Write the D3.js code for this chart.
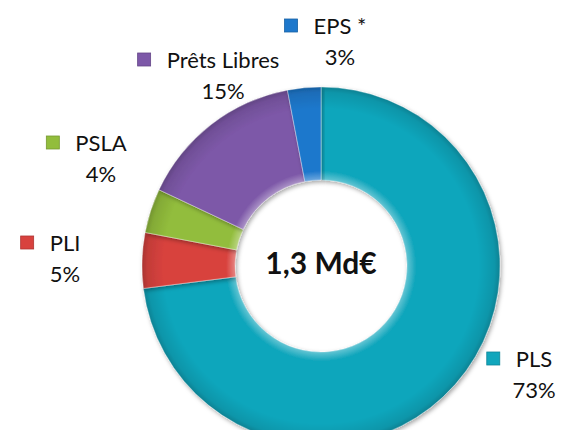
<!DOCTYPE html>
<html>
<head>
<meta charset="utf-8">
<script src="https://cdn.jsdelivr.net/npm/d3@7"></script>
<style>
  body { margin: 0; background: #fff; }
  svg { display: block; }
  text { font-family: Lato, "Open Sans", sans-serif; fill: #111; }
</style>
</head>
<body>
<svg id="chart" width="561" height="430"></svg>
<script>
// data, clockwise from 12 o'clock
const categories = ["PLS", "PLI", "PSLA", "Prêts Libres", "EPS *"];
const shares = [73, 5, 4, 15, 3];
const colors = ["#11A6BC", "#D8423E", "#92BD3C", "#7D58A8", "#1E78CC"];
const totalLabel = "1,3 Md€";

// label layout (name centre x, name baseline y)
const labelAt = {
    "PLS": [534, 367],
    "PLI": [65, 251],
    "PSLA": [101, 151],
    "Prêts Libres": [223, 68],
    "EPS *": [340, 34]
};

const cx = 321, cy = 266, outerR = 179, innerR = 86;

const svg = d3.select("#chart");
const defs = svg.append("defs");

// soft shadow under the ring
const shadow = defs.append("filter").attr("id", "shadow")
    .attr("x", "-10%").attr("y", "-10%").attr("width", "120%").attr("height", "120%");
shadow.append("feDropShadow")
    .attr("dx", 1.5).attr("dy", 2).attr("stdDeviation", 2)
    .attr("flood-color", "#000").attr("flood-opacity", 0.35);

// bevel-ish shading across the ring
const shade = defs.append("radialGradient").attr("id", "shade")
    .attr("gradientUnits", "userSpaceOnUse")
    .attr("cx", 0).attr("cy", 0).attr("r", outerR);
[[innerR / outerR, "#fff", 0.35], [innerR / outerR + 0.05, "#fff", 0.0],
 [0.88, "#000", 0.0], [0.97, "#000", 0.1], [1, "#000", 0.22]]
    .forEach(s => shade.append("stop")
        .attr("offset", s[0]).attr("stop-color", s[1]).attr("stop-opacity", s[2]));

const data = categories.map((c, i) => ({ name: c, value: shares[i], color: colors[i] }));

const pie = d3.pie().value(d => d.value).sort(null);
const arc = d3.arc().innerRadius(innerR).outerRadius(outerR);

const g = svg.append("g").attr("transform", `translate(${cx},${cy})`);

const slices = g.selectAll(".slice")
    .data(pie(data))
    .join("g")
    .attr("class", "slice")
    .attr("filter", "url(#shadow)");

slices.append("path")
    .attr("d", arc)
    .attr("fill", d => d.data.color);

slices.append("path")
    .attr("d", arc)
    .attr("fill", "url(#shade)")
    .attr("stroke", "rgba(255,255,255,0.35)")
    .attr("stroke-width", 1);

// centre text
svg.append("text")
    .attr("x", cx).attr("y", 274)
    .attr("text-anchor", "middle")
    .style("font-size", "30px")
    .style("font-weight", "bold")
    .text(totalLabel);

// labels with legend key
const labels = svg.selectAll(".lbl")
    .data(data)
    .join("g")
    .attr("class", "lbl")
    .attr("transform", d => `translate(${labelAt[d.name][0]},${labelAt[d.name][1]})`);

labels.append("text")
    .attr("class", "name")
    .attr("text-anchor", "middle")
    .style("font-size", "22px")
    .text(d => d.name);

labels.append("text")
    .attr("y", 31)
    .attr("text-anchor", "middle")
    .style("font-size", "22px")
    .text(d => d.value + "%");

labels.each(function (d) {
    const grp = d3.select(this);
    const w = grp.select(".name").node().getComputedTextLength();
    grp.append("rect")
        .attr("x", -w / 2 - 29).attr("y", -15)
        .attr("width", 13).attr("height", 13)
        .attr("fill", d.color)
        .attr("stroke", d3.color(d.color).darker(0.6))
        .attr("stroke-width", 0.8);
});
</script>
</body>
</html>
